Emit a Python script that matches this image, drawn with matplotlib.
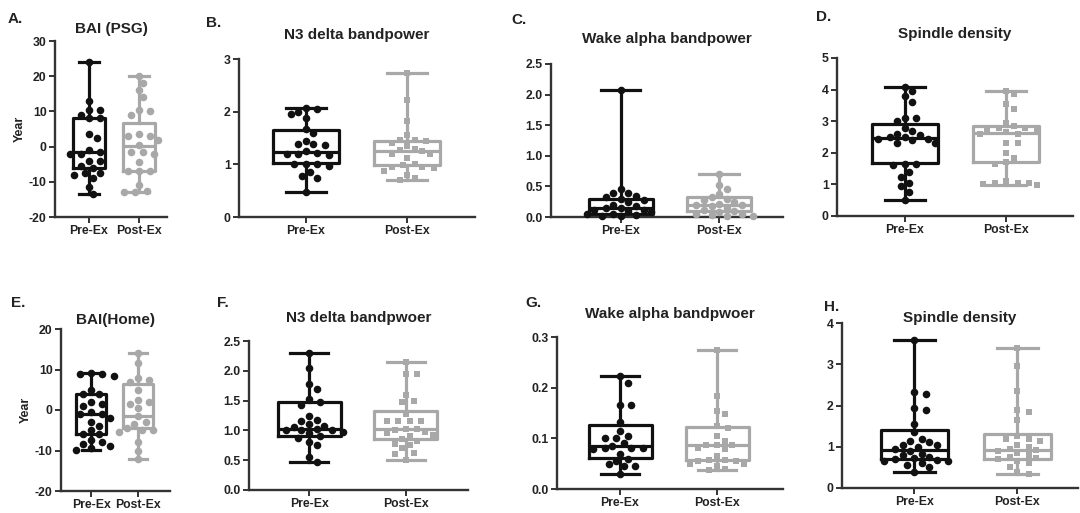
import numpy as np
import matplotlib
matplotlib.use("Agg")
import matplotlib.pyplot as plt

plt.rcParams['font.family'] = ['Liberation Sans', 'DejaVu Sans']

groups = ["Pre-Ex", "Post-Ex"]
panel_letters = ["A.", "B.", "C.", "D.", "E.", "F.", "G.", "H."]
titles = ["BAI (PSG)", "N3 delta bandpower", "Wake alpha bandpower", "Spindle density",
          "BAI(Home)", "N3 delta bandpwoer", "Wake alpha bandpwoer", "Spindle density"]
ylabels = ["Year", "", "", "", "Year", "", "", ""]
ylims = [(-20, 30), (0, 3), (0, 2.5), (0, 5), (-20, 20), (0, 2.5), (0, 0.3), (0, 4)]
yticks = [[-20, -10, 0, 10, 20, 30], [0, 1, 2, 3], [0, 0.5, 1.0, 1.5, 2.0, 2.5], [0, 1, 2, 3, 4, 5],
          [-20, -10, 0, 10, 20], [0, 0.5, 1.0, 1.5, 2.0, 2.5], [0, 0.1, 0.2, 0.3], [0, 1, 2, 3, 4]]
yfmt = ["{:.0f}", "{:.0f}", "{:.1f}", "{:.0f}", "{:.0f}", "{:.1f}", "{:.1f}", "{:.0f}"]
post_marker = ["o", "s", "o", "s", "o", "s", "s", "s"]

# box statistics (min, q1, median, q3, max) per panel: [pre, post]
box_min = [[-13.5, -13], [0.47, 0.70], [0.0, 0.0], [0.5, 0.97], [-9.8, -12], [0.47, 0.50], [0.029, 0.038], [0.38, 0.35]]
box_q1 = [[-6.1, -7.0], [1.02, 0.98], [0.05, 0.10], [1.68, 1.70], [-6.0, -4.5], [0.90, 0.85], [0.062, 0.058], [0.70, 0.70]]
box_med = [[-1.5, 0.3], [1.23, 1.25], [0.15, 0.20], [2.48, 2.62], [-1.0, -1.5], [1.02, 1.03], [0.085, 0.086], [0.92, 0.92]]
box_q3 = [[8.1, 6.8], [1.65, 1.45], [0.30, 0.32], [2.90, 2.85], [4.0, 6.3], [1.47, 1.32], [0.127, 0.122], [1.40, 1.32]]
box_max = [[24, 20], [2.07, 2.73], [2.07, 0.70], [4.08, 3.97], [9.2, 14], [2.30, 2.15], [0.223, 0.275], [3.58, 3.40]]

# individual points
A_pre = [24, 13, 10.5, 10.5, 9, 8, 8, 3.5, 2.5, -1, -1.5, -2, -2, -4, -4, -5.5, -6, -7.5, -8, -7.5, -9, -11.5, -13.5]
A_post = [20, 18, 16, 14, 10.5, 10, 9, 3.5, 3, 3, 2, 0.5, -1.5, -1.5, -2, -4.5, -7, -7, -7, -11, -12.5, -13, -13]
B_pre = [2.07, 2.05, 2.0, 1.95, 1.88, 1.68, 1.6, 1.45, 1.38, 1.38, 1.37, 1.25, 1.22, 1.2, 1.2, 1.18,
         1.0, 1.0, 1.0, 0.97, 0.85, 0.78, 0.75, 0.47]
B_post = [2.73, 2.22, 1.82, 1.55, 1.47, 1.47, 1.45, 1.4, 1.35, 1.3, 1.28, 1.25, 1.2, 1.2, 1.12, 1.0,
          0.98, 0.95, 0.95, 0.93, 0.88, 0.8, 0.75, 0.7]
C_pre = [2.07, 0.45, 0.4, 0.4, 0.35, 0.32, 0.3, 0.28, 0.25, 0.2, 0.18, 0.15, 0.15, 0.12, 0.12, 0.1,
         0.08, 0.05, 0.05, 0.03, 0.02, 0.01]
C_post = [0.7, 0.52, 0.45, 0.38, 0.32, 0.3, 0.28, 0.25, 0.22, 0.2, 0.2, 0.18, 0.15, 0.12, 0.1, 0.08,
          0.05, 0.05, 0.03, 0.02, 0.01]
D_pre = [4.08, 3.95, 3.8, 3.6, 3.1, 3.1, 3.0, 2.8, 2.7, 2.6, 2.55, 2.5, 2.5, 2.45, 2.45, 2.42, 2.3, 2.3,
         1.65, 1.65, 1.6, 1.4, 1.25, 1.05, 0.95, 0.75, 0.5]
D_post = [3.97, 3.85, 3.55, 3.4, 2.95, 2.85, 2.8, 2.8, 2.75, 2.75, 2.65, 2.6, 2.6, 2.3, 2.3, 2.0, 1.85,
          1.7, 1.65, 1.1, 1.05, 1.05, 1.05, 1.0, 0.97]
E_pre = [9.2, 9, 8.8, 8.5, 5, 4, 4, 2, 1.5, 1, -0.5, -1, -1, -2, -3, -4, -5, -6, -6, -7.5, -8, -8.5,
         -9, -9.5, -9.8]
E_post = [14, 11.5, 8, 7.5, 7, 5, 2.5, 2, 1.5, 0.5, -1.5, -3, -3.5, -4.5, -5, -5, -5.5, -8, -10, -12]
F_pre = [2.3, 2.05, 1.78, 1.7, 1.52, 1.48, 1.43, 1.25, 1.17, 1.15, 1.1, 1.07, 1.05, 1.02, 1.0, 1.0, 1.0,
         0.98, 0.95, 0.9, 0.88, 0.8, 0.75, 0.55, 0.47]
F_post = [2.15, 1.95, 1.95, 1.6, 1.5, 1.48, 1.28, 1.15, 1.15, 1.15, 1.15, 1.03, 1.03, 1.0, 0.98, 0.95,
          0.92, 0.9, 0.85, 0.82, 0.78, 0.75, 0.7, 0.62, 0.6, 0.5]
G_pre = [0.223, 0.21, 0.165, 0.165, 0.133, 0.114, 0.104, 0.1, 0.1, 0.09, 0.085, 0.08, 0.08, 0.08,
         0.078, 0.07, 0.06, 0.055, 0.05, 0.045, 0.045, 0.029]
G_post = [0.275, 0.183, 0.148, 0.154, 0.124, 0.12, 0.105, 0.095, 0.086, 0.086, 0.086, 0.08, 0.078,
          0.065, 0.058, 0.058, 0.055, 0.055, 0.05, 0.05, 0.045, 0.04, 0.038]
H_pre = [3.58, 2.33, 2.28, 1.93, 1.9, 1.55, 1.35, 1.2, 1.15, 1.12, 1.05, 1.05, 1.0, 0.95, 0.9, 0.82,
         0.8, 0.75, 0.72, 0.7, 0.68, 0.65, 0.65, 0.6, 0.55, 0.5, 0.38]
H_post = [3.4, 2.95, 2.35, 1.9, 1.85, 1.65, 1.25, 1.2, 1.2, 1.15, 1.05, 1.0, 0.95, 0.92, 0.9, 0.85,
          0.8, 0.75, 0.72, 0.7, 0.65, 0.6, 0.5, 0.4, 0.35]
points = [(A_pre, A_post), (B_pre, B_post), (C_pre, C_post), (D_pre, D_post),
          (E_pre, E_post), (F_pre, F_post), (G_pre, G_post), (H_pre, H_post)]

W, H = 1080, 513
fig = plt.figure(figsize=(W / 100, H / 100), dpi=100)

# axes boxes in pixels: left, right, top, bottom
ax_px = [(55, 167, 41, 217), (239, 475, 59, 217), (551, 783, 64, 217), (837, 1073, 58, 216),
         (61, 170, 329, 491), (249, 468, 341, 490), (557, 783, 337, 489), (842, 1078, 323, 488)]
xlims = [(0.32, 2.56), (0.34, 2.67), (0.29, 2.65), (0.33, 2.66),
         (0.36, 2.68), (0.38, 2.64), (0.35, 2.68), (0.30, 2.59)]
title_y = [29, 35, 39, 34, 320, 318, 314, 318]
letter_xy = [(8, 19), (206, 23), (511, 20), (816, 17), (11, 303), (217, 303), (525, 303), (824, 307)]

BLACK = "#111111"
GRAY = "#a8a8a8"
AXC = "#333333"
dot_px = 7.6


def swarm_x(ax, pos, vals, d):
    tr = ax.transData
    vals = np.asarray(vals, float)
    ypx = tr.transform(np.column_stack([np.full(len(vals), pos), vals]))[:, 1]
    x0 = tr.transform((pos, 0))[0]
    order = np.argsort(-ypx)
    placed = []
    xs = np.zeros(len(vals))
    offs = [0]
    for k in range(1, 12):
        offs += [k * d * 0.5, -k * d * 0.5]
    for i in order:
        for o in offs:
            x = x0 + o
            if all((x - px) ** 2 + (ypx[i] - py) ** 2 >= (d * 1.05) ** 2 for px, py in placed):
                break
        placed.append((x, ypx[i]))
        xs[i] = x
    inv = tr.inverted()
    return inv.transform(np.column_stack([xs, ypx]))[:, 0]


for p in range(8):
    l, r, t, b = ax_px[p]
    ax = fig.add_axes([l / W, 1 - b / H, (r - l) / W, (b - t) / H])
    ax.set_xlim(*xlims[p])
    ax.set_ylim(*ylims[p])
    for s in ["top", "right"]:
        ax.spines[s].set_visible(False)
    for s in ["left", "bottom"]:
        ax.spines[s].set_linewidth(1.7)
        ax.spines[s].set_color(AXC)
    ax.tick_params(axis="both", length=4, width=1.4, color=AXC, labelsize=8.8, labelcolor="#222222", pad=2)
    ax.set_xticks([1, 2])
    ax.set_xticklabels(groups, fontweight="bold")
    ax.set_yticks(yticks[p])
    ax.set_yticklabels([yfmt[p].format(v) for v in yticks[p]], fontweight="bold")
    if ylabels[p]:
        ax.set_ylabel(ylabels[p], fontsize=9, fontweight="bold", color="#222222", labelpad=2)

    for g, col in enumerate([BLACK, GRAY]):
        stats = [dict(med=box_med[p][g], q1=box_q1[p][g], q3=box_q3[p][g],
                      whislo=box_min[p][g], whishi=box_max[p][g], fliers=[])]
        lw = 2.3
        ax.bxp(stats, positions=[g + 1], widths=0.65, capwidths=0.4, showfliers=False,
               patch_artist=False,
               boxprops=dict(color=col, linewidth=lw),
               medianprops=dict(color=col, linewidth=lw),
               whiskerprops=dict(color=col, linewidth=lw),
               capprops=dict(color=col, linewidth=lw),
               manage_ticks=False, zorder=2)
        vals = points[p][g]
        xs = swarm_x(ax, g + 1, vals, dot_px)
        mk = "o" if g == 0 else post_marker[p]
        ms = dot_px * 0.72 if mk == "o" else dot_px * 0.64
        ax.plot(xs, vals, linestyle="none", marker=mk, markersize=ms, color=col,
                markeredgewidth=0, zorder=3, clip_on=False)
    ax.set_xlim(*xlims[p])

    fig.text((l + r) / 2 / W, 1 - title_y[p] / H, titles[p], ha="center", va="center",
             fontsize=11, fontweight="bold", color="#222222")
    lx, ly = letter_xy[p]
    fig.text(lx / W, 1 - ly / H, panel_letters[p], ha="left", va="center",
             fontsize=11, fontweight="bold", color="#222222")

fig.savefig("out.png", dpi=100)
